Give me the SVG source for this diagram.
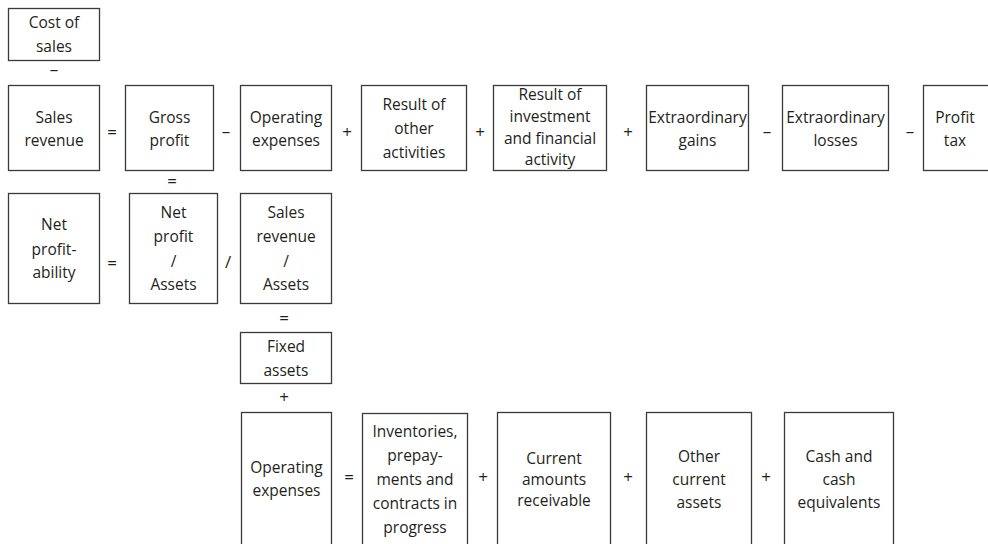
<svg xmlns="http://www.w3.org/2000/svg" width="988" height="544" viewBox="0 0 988 544">
<style>
  .box { fill: #ffffff; stroke: #3a3a3a; stroke-width: 1.3; }
  text { font-family: "Open Sans", "Noto Sans", "Liberation Sans", sans-serif; font-size: 15.5px; fill: #231f20; text-anchor: middle; }
  .op { font-size: 17px; }
</style>
<rect x="0" y="0" width="988" height="544" fill="#ffffff"/>

<g id="connectors">
  <text class="op" x="54" y="75">–</text>
  <text class="op" x="112" y="138">=</text>
  <text class="op" x="226" y="137">–</text>
  <text class="op" x="347" y="138">+</text>
  <text class="op" x="480" y="138">+</text>
  <text class="op" x="628" y="138">+</text>
  <text class="op" x="767" y="137">–</text>
  <text class="op" x="910" y="137">–</text>
  <text class="op" x="172" y="187">=</text>
  <text class="op" x="112" y="269">=</text>
  <text class="op" x="228" y="268">/</text>
  <text class="op" x="284" y="324">=</text>
  <text class="op" x="284" y="403">+</text>
  <text class="op" x="349" y="483">=</text>
  <text class="op" x="483" y="483">+</text>
  <text class="op" x="628" y="483">+</text>
  <text class="op" x="766" y="483">+</text>
</g>

<g id="cost-of-sales">
  <rect class="box" x="8.5" y="8.5" width="91" height="52"/>
  <text x="54" y="28">Cost of</text>
  <text x="54" y="52">sales</text>
</g>

<g id="sales-revenue">
  <rect class="box" x="8.5" y="85.5" width="91" height="85"/>
  <text x="54" y="123">Sales</text>
  <text x="54" y="146">revenue</text>
</g>

<g id="gross-profit">
  <rect class="box" x="125.5" y="85.5" width="88" height="85"/>
  <text x="169.5" y="123">Gross</text>
  <text x="169.5" y="146">profit</text>
</g>

<g id="operating-expenses-1">
  <rect class="box" x="240.5" y="85.5" width="91" height="85"/>
  <text x="286" y="123">Operating</text>
  <text x="286" y="146">expenses</text>
</g>

<g id="result-other">
  <rect class="box" x="361.5" y="85.5" width="105" height="85"/>
  <text x="414" y="110">Result of</text>
  <text x="414" y="134">other</text>
  <text x="414" y="158">activities</text>
</g>

<g id="result-investment">
  <rect class="box" x="493.5" y="85.5" width="113" height="85"/>
  <text x="550" y="100">Result of</text>
  <text x="550" y="122">investment</text>
  <text x="550" y="144">and financial</text>
  <text x="550" y="165">activity</text>
</g>

<g id="extraordinary-gains">
  <rect class="box" x="646.5" y="85.5" width="102" height="85"/>
  <text x="697.5" y="123">Extraordinary</text>
  <text x="697.5" y="146">gains</text>
</g>

<g id="extraordinary-losses">
  <rect class="box" x="782.5" y="85.5" width="106" height="85"/>
  <text x="835.5" y="123">Extraordinary</text>
  <text x="835.5" y="146">losses</text>
</g>

<g id="profit-tax">
  <rect class="box" x="923.5" y="85.5" width="68" height="85"/>
  <text x="955" y="123">Profit</text>
  <text x="955" y="146">tax</text>
</g>

<g id="net-profitability">
  <rect class="box" x="8.5" y="193.5" width="91" height="110"/>
  <text x="54" y="230">Net</text>
  <text x="54" y="255">profit-</text>
  <text x="54" y="278">ability</text>
</g>

<g id="net-profit-assets">
  <rect class="box" x="129.5" y="193.5" width="88" height="110"/>
  <text x="173.5" y="218">Net</text>
  <text x="173.5" y="242">profit</text>
  <text x="173.5" y="267">/</text>
  <text x="173.5" y="290">Assets</text>
</g>

<g id="sales-revenue-assets">
  <rect class="box" x="240.5" y="193.5" width="91" height="110"/>
  <text x="286" y="218">Sales</text>
  <text x="286" y="242">revenue</text>
  <text x="286" y="267">/</text>
  <text x="286" y="290">Assets</text>
</g>

<g id="fixed-assets">
  <rect class="box" x="240.5" y="332.5" width="91" height="51"/>
  <text x="286" y="352">Fixed</text>
  <text x="286" y="376">assets</text>
</g>

<g id="operating-expenses-2">
  <rect class="box" x="241.5" y="412.5" width="90" height="140"/>
  <text x="286.5" y="473">Operating</text>
  <text x="286.5" y="496">expenses</text>
</g>

<g id="inventories">
  <rect class="box" x="362.5" y="413.5" width="105" height="140"/>
  <text x="415" y="437">Inventories,</text>
  <text x="415" y="461">prepay-</text>
  <text x="415" y="485">ments and</text>
  <text x="415" y="509">contracts in</text>
  <text x="415" y="533">progress</text>
</g>

<g id="current-receivable">
  <rect class="box" x="497.5" y="412.5" width="113" height="140"/>
  <text x="554" y="464">Current</text>
  <text x="554" y="485">amounts</text>
  <text x="554" y="506">receivable</text>
</g>

<g id="other-current-assets">
  <rect class="box" x="646.5" y="412.5" width="105" height="140"/>
  <text x="699" y="462">Other</text>
  <text x="699" y="485">current</text>
  <text x="699" y="508">assets</text>
</g>

<g id="cash">
  <rect class="box" x="784.5" y="412.5" width="109" height="140"/>
  <text x="839" y="462">Cash and</text>
  <text x="839" y="485">cash</text>
  <text x="839" y="508">equivalents</text>
</g>
</svg>
